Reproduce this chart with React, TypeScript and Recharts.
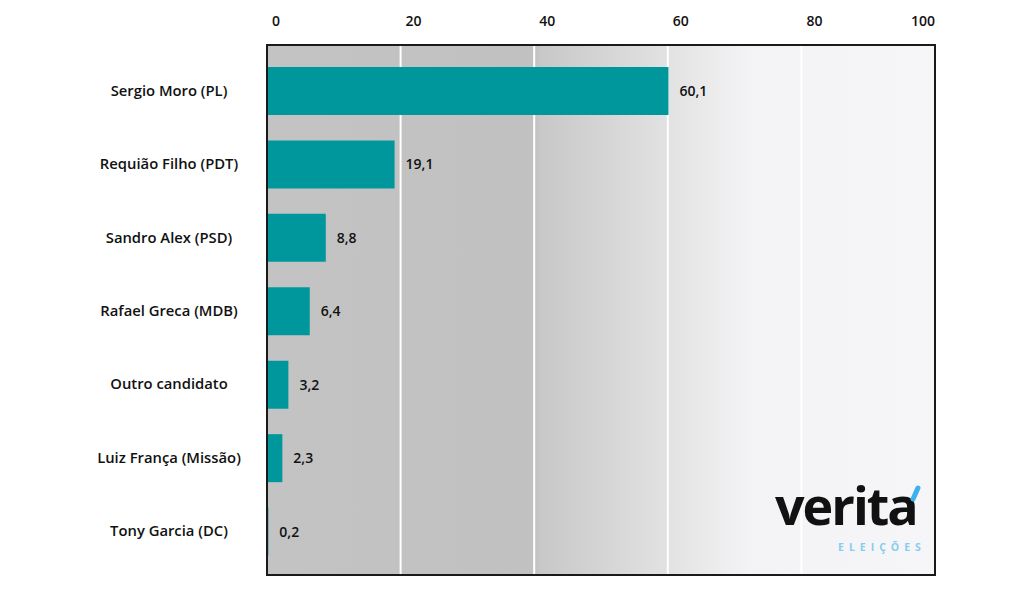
import { BarChart, Bar, XAxis, YAxis, CartesianGrid, LabelList } from "recharts"

const candidates = [
  "Sergio Moro (PL)",
  "Requião Filho (PDT)",
  "Sandro Alex (PSD)",
  "Rafael Greca (MDB)",
  "Outro candidato",
  "Luiz França (Missão)",
  "Tony Garcia (DC)",
]
const votes = [60.1, 19.1, 8.8, 6.4, 3.2, 2.3, 0.2]
const xTicks = [0, 20, 40, 60, 80, 100]

const data = candidates.map((name, i) => ({ name, value: votes[i] }))

const FONT = "'Open Sans', 'Noto Sans', sans-serif"

const fmt = (v: number) => v.toFixed(1).replace(".", ",")

function TopTick(props: any) {
  const { x, payload } = props
  const last = payload.value === 100
  return (
    <text
      x={last ? x : x + 5}
      y={26}
      textAnchor={last ? "end" : "start"}
      fontFamily={FONT}
      fontSize={14}
      fontWeight={600}
      fill="#111"
    >
      {payload.value}
    </text>
  )
}

function NameTick(props: any) {
  const { y, payload } = props
  return (
    <text x={169} y={y} dy={5} textAnchor="middle" fontFamily={FONT} fontSize={14.8} fontWeight={600} fill="#111">
      {payload.value}
    </text>
  )
}

export default function App() {
  return (
    <div style={{ position: "absolute", left: 0, top: 0, width: 1024, height: 589, background: "#fff" }}>
      <BarChart
        width={1024}
        height={589}
        data={data}
        layout="vertical"
        margin={{ top: 15, right: 89, bottom: 14, left: 0 }}
      >
        <defs>
          <linearGradient id="bg" x1="0" y1="0" x2="1" y2="0">
            <stop offset="0" stopColor="#c3c3c3" />
            <stop offset="0.4" stopColor="#c1c1c1" />
            <stop offset="0.41" stopColor="#c8c8c8" />
            <stop offset="0.6" stopColor="#e2e2e2" />
            <stop offset="0.72" stopColor="#f3f3f5" />
            <stop offset="1" stopColor="#f6f6f8" />
          </linearGradient>
        </defs>
        <CartesianGrid horizontal={false} stroke="#ffffff" strokeWidth={2} fill="url(#bg)" fillOpacity={1} />
        <XAxis
          type="number"
          orientation="top"
          domain={[0, 100]}
          ticks={xTicks}
          height={30}
          axisLine={false}
          tickLine={false}
          tick={<TopTick />}
        />
        <YAxis
          type="category"
          dataKey="name"
          width={267}
          axisLine={false}
          tickLine={false}
          padding={{ top: 9, bottom: 7 }}
          tick={<NameTick />}
          interval={0}
        />
        <Bar dataKey="value" fill="#00979c" barSize={48} isAnimationActive={false}>
          <LabelList
            dataKey="value"
            position="right"
            offset={11}
            formatter={(v: any) => fmt(Number(v))}
            style={{ fontFamily: FONT, fontSize: 14, fontWeight: 600, fill: "#111" }}
          />
        </Bar>
      </BarChart>
      {/* plot frame */}
      <div
        style={{
          position: "absolute",
          left: 266,
          top: 44,
          width: 670,
          height: 532,
          boxSizing: "border-box",
          border: "2px solid #1a1a1a",
          pointerEvents: "none",
        }}
      />
      {/* logo */}
      <div
        style={{
          position: "absolute",
          left: 775,
          top: 470,
          fontFamily: FONT,
          fontSize: 52,
          fontWeight: 700,
          letterSpacing: -2,
          color: "#111",
          lineHeight: "70px",
          whiteSpace: "nowrap",
        }}
      >
        verita
      </div>
      <div
        style={{
          position: "absolute",
          left: 913,
          top: 485,
          width: 5,
          height: 17,
          background: "#3bb2ec",
          borderRadius: 3,
          transform: "rotate(24deg)",
        }}
      />
      <div
        style={{
          position: "absolute",
          left: 838,
          top: 540,
          fontFamily: FONT,
          fontSize: 10.5,
          fontWeight: 700,
          letterSpacing: 5,
          color: "#86cdf1",
          whiteSpace: "nowrap",
        }}
      >
        ELEIÇÕES
      </div>
    </div>
  )
}
